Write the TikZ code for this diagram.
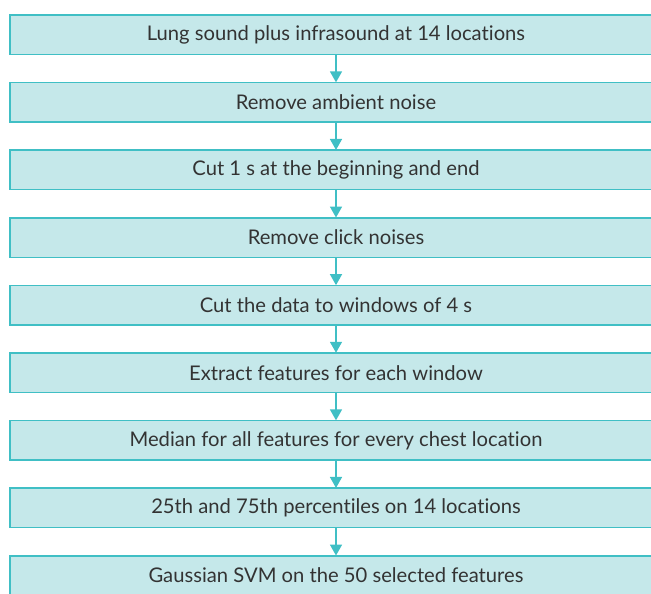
\documentclass[tikz,border=0pt]{standalone}
\usepackage{fontspec}
\setmainfont{Lato}[Ligatures={NoCommon,NoRare}]
\usetikzlibrary{arrows.meta}
\definecolor{boxfill}{HTML}{C5E8EA}
\definecolor{boxline}{HTML}{40BFC5}
\definecolor{txt}{HTML}{333333}
\tikzset{
  box/.style={draw=boxline, line width=1.5pt, fill=boxfill, minimum width=652pt, minimum height=39.5pt, inner sep=0pt, text=txt, font=\fontsize{20.2}{23}\selectfont, anchor=center},
  arr/.style={draw=boxline, line width=1.6pt, -{Triangle[width=12pt,length=11pt]}, shorten >=-0.5pt}
}
\begin{document}
\begin{tikzpicture}[x=1pt,y=-1pt]
\useasboundingbox (0,0) rectangle (651,594);
\clip (0,0) rectangle (651,594);
\node[box] (n1) at (336,34.75) {Lung sound plus infrasound at 14 locations};
\node[box] (n2) at (336,102.35) {Remove ambient noise};
\node[box] (n3) at (336,169.95) {Cut 1 s at the beginning and end};
\node[box] (n4) at (336,237.55) {Remove click noises};
\node[box] (n5) at (336,305.15) {Cut the data to windows of 4 s};
\node[box] (n6) at (336,372.75) {Extract features for each window};
\node[box] (n7) at (336,440.35) {Median for all features for every chest location};
\node[box] (n8) at (336,507.95) {25th and 75th percentiles on 14 locations};
\node[box] (n9) at (336,575.55) {Gaussian SVM on the 50 selected features};
\foreach \a/\b in {n1/n2,n2/n3,n3/n4,n4/n5,n5/n6,n6/n7,n7/n8,n8/n9}
  \draw[arr] (\a.south) -- (\b.north);
\end{tikzpicture}
\end{document}
